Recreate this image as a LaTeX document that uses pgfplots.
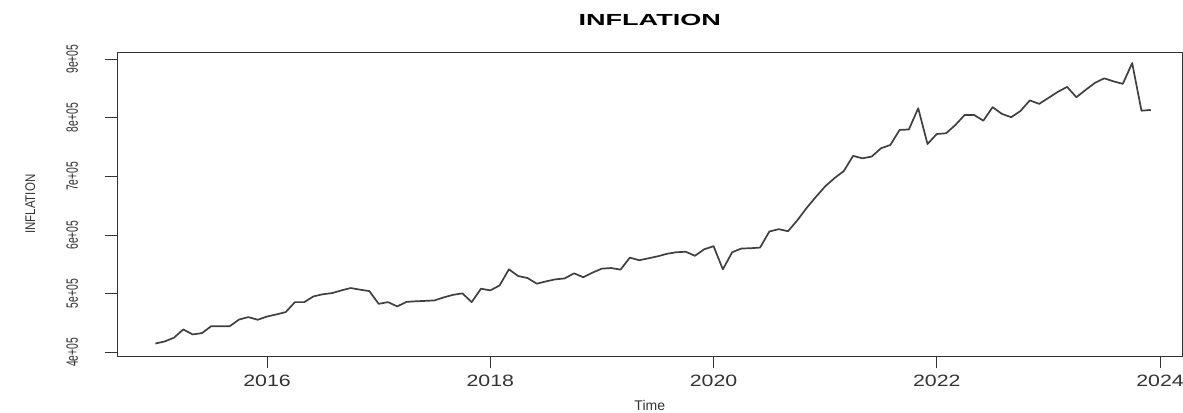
\documentclass[border=0pt]{standalone}
\usepackage{graphicx}
\usepackage{pgfplots}
\pgfplotsset{compat=1.18}
\usepackage{pgfplotstable}
\usepackage{fontspec}
\setmainfont{Liberation Sans}
\pgfplotstableread{
i v
0 415
1 418.5
2 425
3 439
4 430.5
5 432.7
6 444.6
7 444.6
8 444.6
9 456
10 460
11 455.5
12 461
13 464.6
14 468.5
15 485.6
16 485.6
17 495.4
18 499
19 501
20 505.6
21 509.6
22 506.8
23 504.4
24 482.6
25 485.6
26 478.3
27 486
28 487
29 487.7
30 488.5
31 493.7
32 498
33 500.5
34 485.6
35 508.5
36 505.6
37 514
38 541.5
39 530
40 526.7
41 517
42 521
43 524.4
44 526
45 534.7
46 528
47 536
48 542.7
49 543.7
50 541
51 561.5
52 557
53 560.3
54 563.7
55 568
56 570.6
57 571.5
58 564.6
59 575.7
60 581
61 541.5
62 570.6
63 577
64 577.5
65 578.6
66 606
67 610
68 606.5
69 625
70 646
71 665
72 683
73 697
74 709
75 735
76 730.8
77 733.8
78 747.9
79 753.5
80 779.2
81 780
82 816.2
83 755.2
84 772.3
85 773.5
86 787.7
87 804.8
88 804.8
89 795
90 818
91 806.5
92 800.9
93 811.6
94 829.6
95 823.6
96 833.8
97 844
98 852.6
99 835
100 847.5
101 859.5
102 867.2
103 862
104 857.8
105 893.2
106 812
107 813.3
}\inflation
\begin{document}
\begin{tikzpicture}
\begin{axis}[
  scale only axis,
  width=532pt, height=152pt,
  xmin=2014.657, xmax=2024.2,
  ymin=393, ymax=912,
  xtick={2016,2018,2020,2022,2024},
  xticklabels={\scalebox{1.3}[1]{2016},\scalebox{1.3}[1]{2018},\scalebox{1.3}[1]{2020},\scalebox{1.3}[1]{2022},\scalebox{1.3}[1]{2024}},
  ytick={400,500,600,700,800,900},
  yticklabels={\scalebox{0.63}[1]{4e+05},\scalebox{0.63}[1]{5e+05},\scalebox{0.63}[1]{6e+05},\scalebox{0.63}[1]{7e+05},\scalebox{0.63}[1]{8e+05},\scalebox{0.63}[1]{9e+05}},
  tick align=outside,
  major tick length=6pt,
  xtick pos=bottom, ytick pos=left,
  axis line style={black!80, line width=0.5pt},
  tick style={black!80, line width=0.5pt},
  tick label style={font=\fontsize{8.2}{9}\selectfont, text=black!80},
  yticklabel style={rotate=90, anchor=south},
  yticklabel shift=10pt,
  xticklabel style={anchor=north},
  xlabel={Time},
  ylabel={\scalebox{0.82}[1]{INFLATION}},
  label style={font=\fontsize{7}{8}\selectfont, text=black!80},
  ylabel style={at={(axis description cs:-0.0816,0.5)}, anchor=center},
  xlabel style={at={(axis description cs:0.5,0)}, anchor=center, yshift=-24.5pt},
  clip=false,
]
\addplot[black!75, line width=0.85pt, line join=round] table[x expr=2015+\thisrow{i}/12, y=v] {\inflation};
\node[font=\fontsize{8}{9}\selectfont, anchor=center, yshift=16pt] at (axis description cs:0.5,1) {\scalebox{1.69}[1]{\textbf{INFLATION}}};
\end{axis}
\pgfresetboundingbox
\useasboundingbox ([xshift=-58.5pt, yshift=-28pt]current axis.south west) rectangle ([xshift=0.3pt, yshift=26pt]current axis.north east);
\end{tikzpicture}
\end{document}
